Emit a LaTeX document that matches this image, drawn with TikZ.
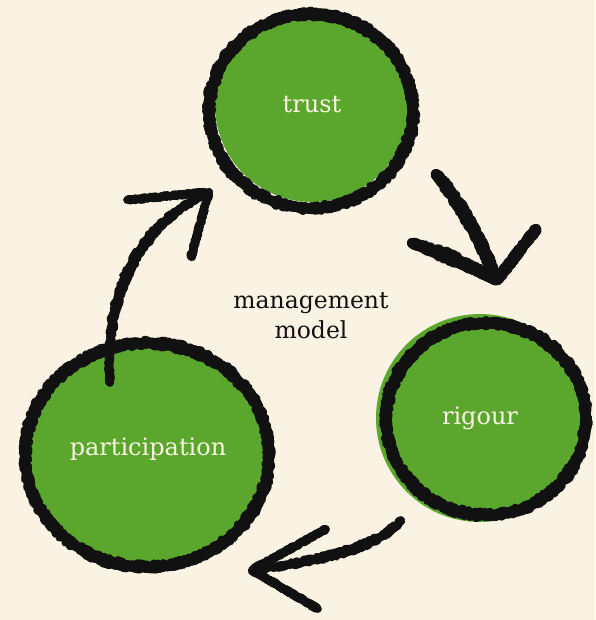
\documentclass[tikz,border=0pt]{standalone}
\usepackage{fontspec}
\setmainfont{DejaVu Serif}
\usetikzlibrary{decorations.pathmorphing}
\definecolor{bg}{HTML}{FAF3E4}
\definecolor{leaf}{HTML}{5BA62D}
\definecolor{ink}{HTML}{111111}
\tikzset{
  blob/.style={circle, fill=leaf, inner sep=0pt, text=bg, font=\fontsize{24}{28}\selectfont},
  rough/.style={draw=ink, line width=#1, line cap=round, line join=round,
    decorate, decoration={random steps, segment length=2pt, amplitude=1.6pt}},
  rough/.default=6pt,
  label/.style={text=ink, align=center, font=\fontsize{23.5}{30}\selectfont}
}
\newcommand\brushpath[2]{%
  \foreach \dx/\dy in {0/0,2.4/1.3,-2.4/-1.3,1.3/-2.4,-1.3/2.4}{%
    \draw[rough=#1, shift={(\dx,\dy)}] #2;}}
\begin{document}
\begin{tikzpicture}[x=1pt,y=-1pt]
\pgfmathsetseed{7}
\fill[bg] (0,0) rectangle (595,620);
\useasboundingbox (0,0) rectangle (595,620);

% circles
\node[blob, minimum size=194pt] (trust) at (312,105) {trust};
\brushpath{7pt}{(311,111) ellipse [x radius=102, y radius=97]}

\node[blob, minimum size=208pt] (rigour) at (480,418) {rigour};
\brushpath{7pt}{(486,419) ellipse [x radius=100, y radius=96]}

\fill[leaf] (148,456) ellipse [x radius=126, y radius=116];
\node[blob, fill=none] (part) at (148,449) {participation};
\brushpath{7pt}{(147,455) ellipse [x radius=122, y radius=112]}

\node[label] (mm) at (311,316) {management\\model};

% arrow participation -> trust
\coordinate (a1s) at (110,383);
\coordinate (a1t) at (209,192);
\coordinate (a1u) at (127,200);
\coordinate (a1d) at (191,257);
\brushpath{7pt}{(a1s) .. controls (104,290) and (140,225) .. (a1t)}
\brushpath{7pt}{(a1u) -- (a1t) -- (a1d)}

% arrow trust -> rigour
\coordinate (a2s) at (436,174);
\coordinate (a2t) at (497,280);
\coordinate (a2l) at (412,243);
\coordinate (a2r) at (536,229);
\brushpath{10pt}{(a2s) .. controls (462,205) and (480,240) .. (a2t)}
\brushpath{10pt}{(a2l) -- (448,256) -- (a2t) -- (a2r)}

% arrow rigour -> participation
\coordinate (a3s) at (401,520);
\coordinate (a3t) at (252,570);
\coordinate (a3u) at (326,529);
\coordinate (a3d) at (318,609);
\brushpath{7pt}{(a3s) .. controls (380,545) and (330,560) .. (a3t)}
\brushpath{7pt}{(a3u) -- (a3t) -- (a3d)}
\end{tikzpicture}
\end{document}
